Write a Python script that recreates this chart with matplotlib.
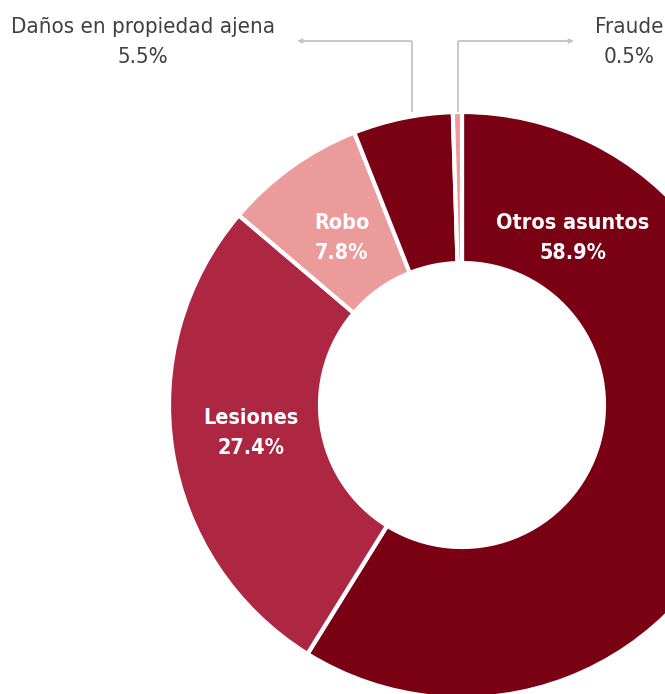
import matplotlib.pyplot as plt

# data
labels = ['Otros asuntos', 'Lesiones', 'Robo', 'Daños en propiedad ajena', 'Fraude']
values = [58.9, 27.4, 7.8, 5.5, 0.5]
colors = ['#7a0014', '#ad2742', '#ec9b9b', '#7a0014', '#ec9b9b']

plt.rcParams['font.family'] = ['DejaVu Sans']

fig = plt.figure(figsize=(6.65, 6.94), dpi=100)
ax = fig.add_axes([0, 0, 1, 1])

cx, cy = 462, 405
r_out, r_in = 293, 142

# y axis points down, so counterclock=True draws clockwise on screen
wedges, _ = ax.pie(values, colors=colors, startangle=-90, counterclock=True,
                   center=(cx, cy), radius=r_out, frame=True,
                   wedgeprops=dict(width=r_out - r_in, edgecolor='white', linewidth=3))
ax.set_xlim(0, 665)
ax.set_ylim(694, 0)
ax.set_aspect('equal')
ax.axis('off')

# labels inside the ring
inside = {0: (573, 238), 1: (251, 433), 2: (342, 238)}
for i, (x, y) in inside.items():
    ax.text(x, y, f'{labels[i]}\n{values[i]}%', ha='center', va='center',
            color='white', fontsize=15.5, fontweight='bold', fontstretch='condensed',
            linespacing=1.65)

# outside labels with leader lines (anchor x, text x, arrow end x)
outside = {3: (412, 143, 297), 4: (458, 629, 574)}
line_y = 41
for i, (x0, tx, xend) in outside.items():
    ax.plot([x0, x0], [cy - r_out, line_y], color='#c4c4c4', lw=1.3,
            solid_capstyle='butt')
    ax.annotate('', xy=(xend, line_y), xytext=(x0 - (0.6 if xend < x0 else -0.6), line_y),
                arrowprops=dict(arrowstyle='->,head_length=0.25,head_width=0.12',
                                color='#c4c4c4', lw=1.3, shrinkA=0, shrinkB=0))
    ax.text(tx, 42, f'{labels[i]}\n{values[i]}%', ha='center', va='center',
            color='#404040', fontsize=16, fontstretch='condensed', linespacing=1.6)

fig.savefig('out.png', dpi=100)
